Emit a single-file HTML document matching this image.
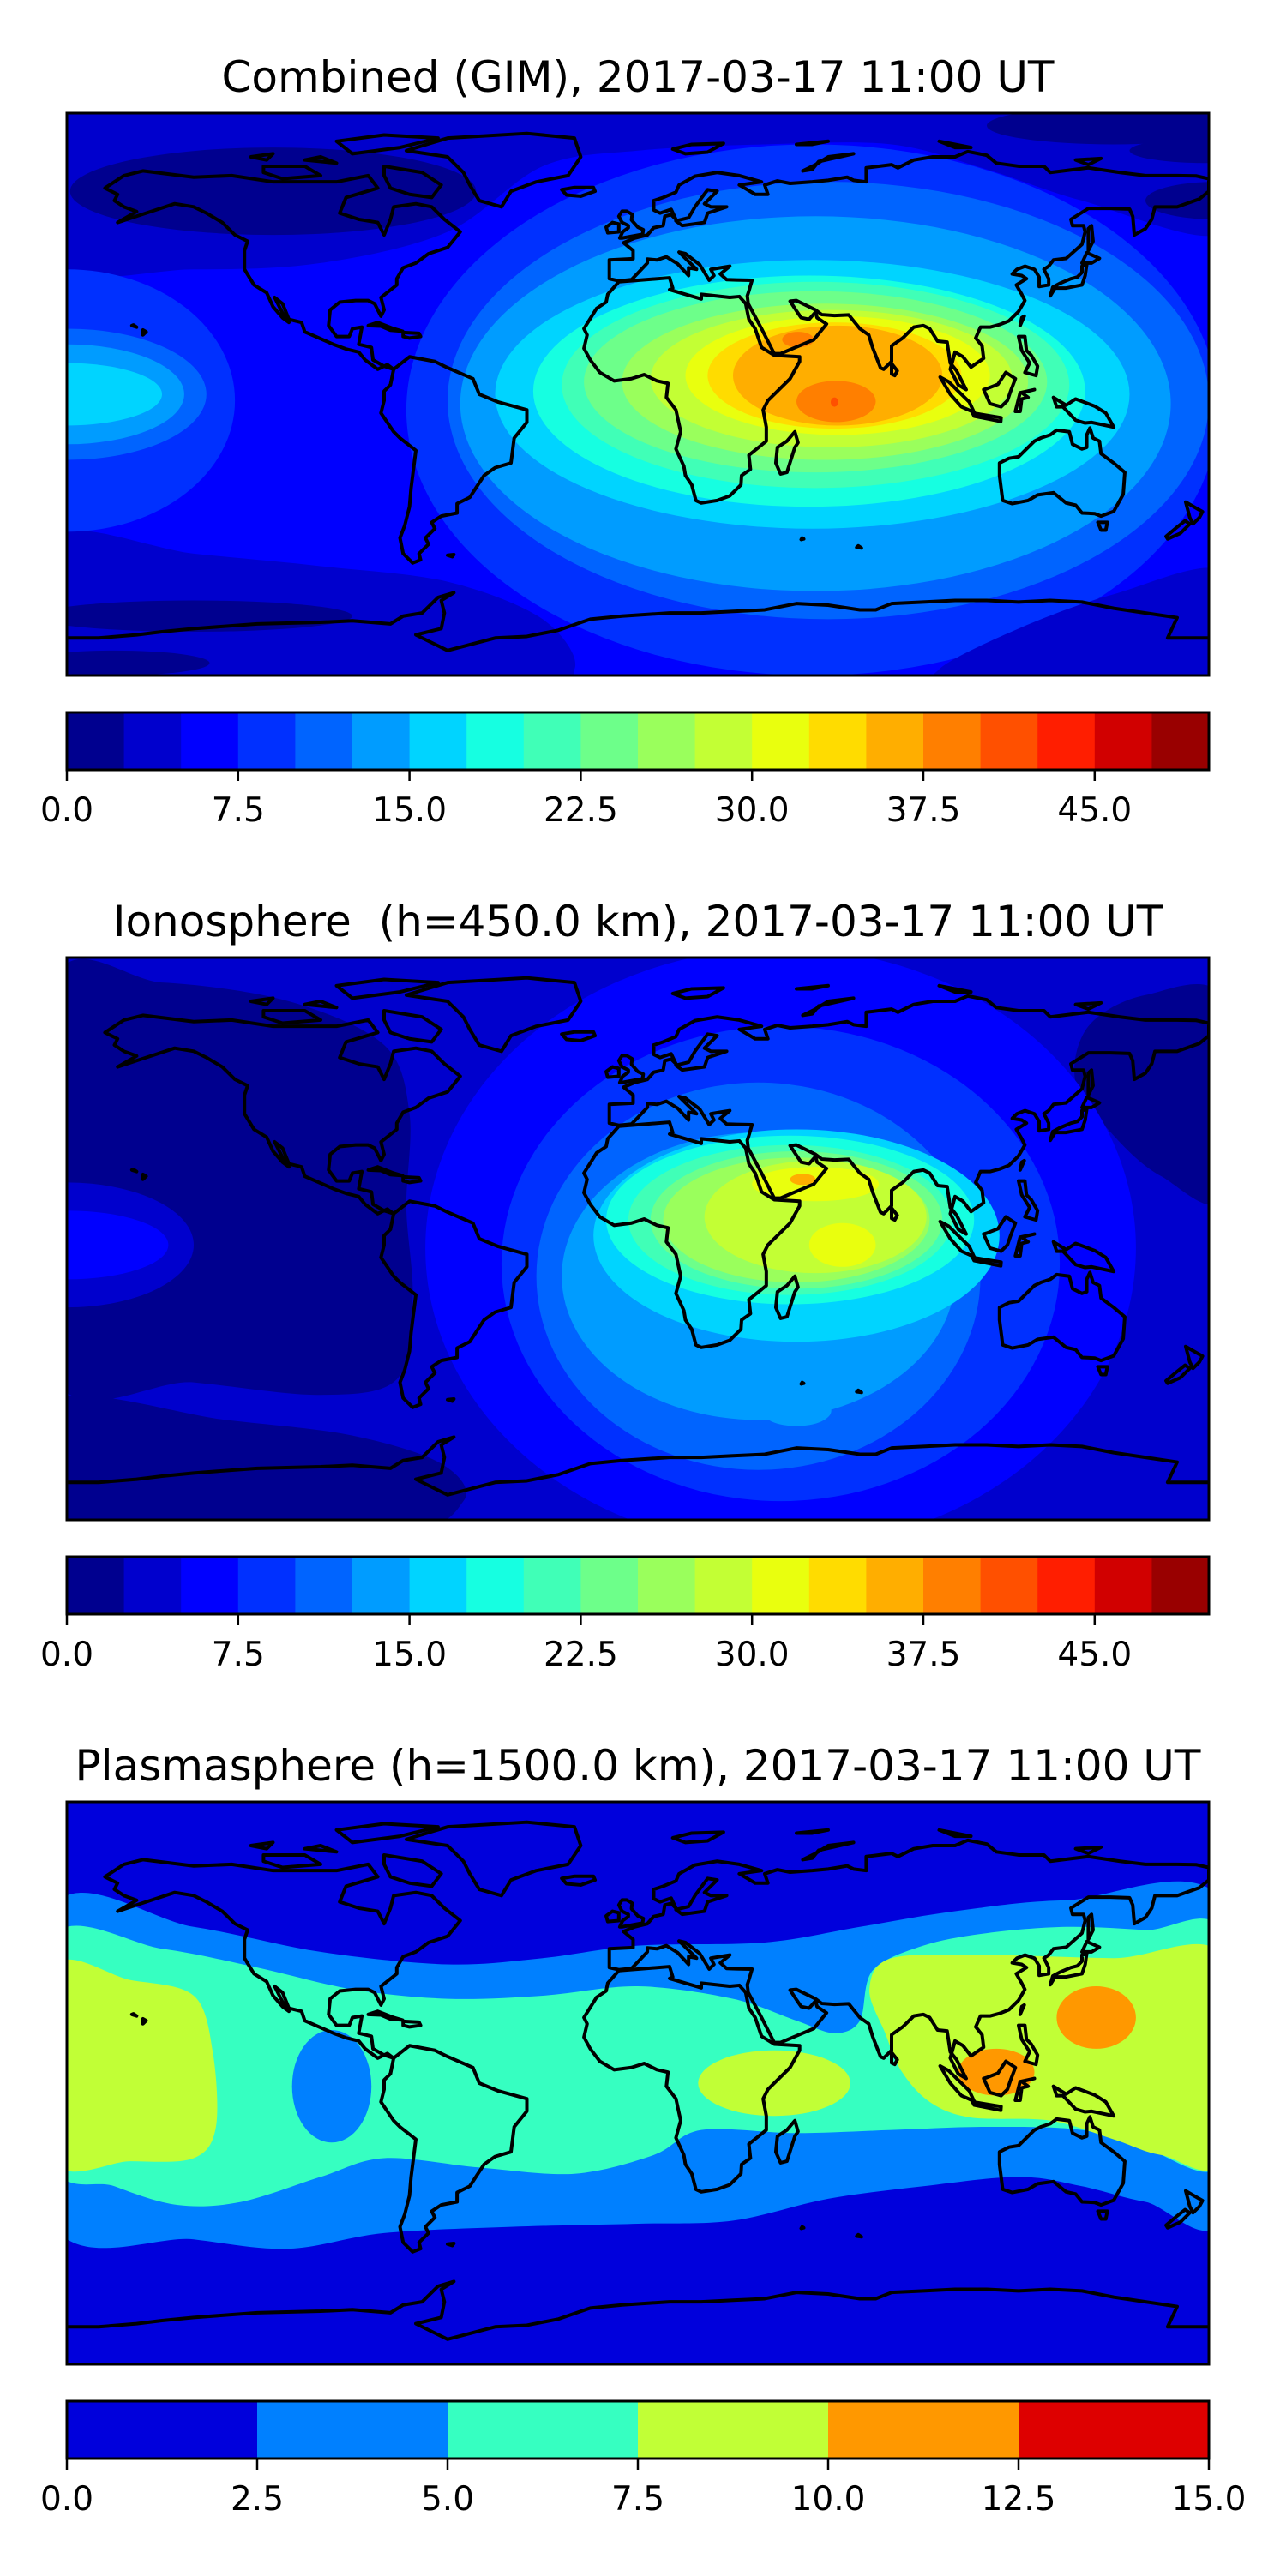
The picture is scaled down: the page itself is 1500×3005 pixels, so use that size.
<!DOCTYPE html>
<html><head><meta charset="utf-8">
<style>
html,body{margin:0;padding:0;background:#fff;}
svg text{font-family:"DejaVu Sans","Liberation Sans",sans-serif;fill:#000;}
</style></head>
<body>
<svg id="root" width="1500" height="3000" xmlns="http://www.w3.org/2000/svg">
<rect width="1500" height="3000" fill="#fff"/>

<!-- ============ PANEL 1 ============ -->
<text x="744" y="107" font-size="50" text-anchor="middle">Combined (GIM), 2017-03-17 11:00 UT</text>
<svg x="78" y="132" width="1332" height="656" viewBox="-180 -90 360 180" preserveAspectRatio="none">
<rect x="-180" y="-90" width="360" height="180" fill="#0000ff"/>
<ellipse cx="55" cy="5" rx="128" ry="85" fill="#0030ff"/>
<path class="sm" data-c="#0000cd" data-p="-185,95 185,95 185,52 140,62 110,72 80,80 40,80 0,78 -30,73 -60,52 -100,42 -140,40 -185,42"/>
<path class="sm" data-c="#0000cd" data-p="-185,-95 -40,-95 -20,-88 -30,-72 -60,-60 -100,-55 -140,-51 -185,-46"/>
<path class="sm" data-c="#0000cd" data-p="185,-95 100,-95 95,-88 120,-75 150,-64 185,-57"/>
<ellipse cx="-115" cy="-65" rx="64" ry="14" fill="#00008f"/>
<ellipse cx="150" cy="-86" rx="40" ry="6" fill="#00008f"/>
<ellipse cx="182" cy="-62" rx="22" ry="6" fill="#00008f"/>
<ellipse cx="-140" cy="71" rx="50" ry="5" fill="#00008f"/>
<ellipse cx="-165" cy="86" rx="30" ry="4" fill="#00008f"/>
<ellipse cx="180" cy="-78" rx="25" ry="4" fill="#00008f"/>
<!-- pacific blob -->
<ellipse cx="-180" cy="2" rx="53" ry="42" fill="#0030ff"/>
<ellipse cx="-180" cy="0" rx="44" ry="21" fill="#0064ff"/>
<ellipse cx="-180" cy="0" rx="37" ry="16" fill="#009cff"/>
<ellipse cx="-180" cy="0" rx="30" ry="10" fill="#00d4ff"/>
<!-- main -->
<ellipse cx="60" cy="2" rx="120" ry="70" fill="#0064ff"/>
<ellipse cx="56" cy="3" rx="112" ry="60" fill="#009cff"/>
<ellipse cx="55" cy="0" rx="100" ry="43" fill="#00d4ff"/>
<ellipse cx="54" cy="-1" rx="87" ry="37" fill="#16ffe1"/>
<ellipse cx="56" cy="-3" rx="80" ry="33" fill="#40ffb7"/>
<ellipse cx="56" cy="-4" rx="73" ry="29" fill="#6dff8a"/>
<ellipse cx="59" cy="-4" rx="64" ry="25" fill="#9aff5c"/>
<ellipse cx="61" cy="-5" rx="57" ry="22" fill="#c3ff34"/>
<ellipse cx="63" cy="-6" rx="48" ry="19" fill="#e9ff0e"/>
<ellipse cx="62" cy="-6" rx="40" ry="17" fill="#ffdc00"/>
<ellipse cx="63" cy="-6" rx="33" ry="16" fill="#ffae00"/>
<ellipse cx="62.5" cy="2.3" rx="12.5" ry="6.6" fill="#ff7f00"/>
<ellipse cx="50.5" cy="-17.5" rx="5" ry="2.5" fill="#ff7f00"/>
<ellipse cx="62" cy="2.5" rx="1.2" ry="1.5" fill="#ff5000"/>
<g class="coast"></g>
</svg>
<rect x="78" y="132" width="1332" height="656" fill="none" stroke="#000" stroke-width="3"/>
<g id="cb1"></g>

<!-- ============ PANEL 2 ============ -->
<text x="744" y="1092" font-size="50" text-anchor="middle" xml:space="preserve">Ionosphere &#160;(h=450.0 km), 2017-03-17 11:00 UT</text>
<svg x="78" y="1117" width="1332" height="656" viewBox="-180 -90 360 180" preserveAspectRatio="none">
<rect x="-180" y="-90" width="360" height="180" fill="#0000cd"/>
<path class="sm" data-c="#00008f" data-p="-185,80 -150,82 -110,76 -80,62 -72,40 -73,10 -71,-20 -76,-45 -100,-50 -140,-46 -185,-42"/>
<path class="sm" data-c="#00008f" data-p="185,76 160,78 142,68 138,50 150,33 165,20 185,14"/>
<path class="sm" data-c="#00008f" data-p="-185,-52 -130,-58 -90,-63 -62,-72 -55,-84 -80,-95 -185,-95"/>
<ellipse cx="-180" cy="2" rx="40" ry="20" fill="#0000cd"/>
<ellipse cx="-180" cy="2" rx="32" ry="11" fill="#0000ff"/>
<ellipse cx="45" cy="3" rx="112" ry="96" fill="#0000ff"/>
<ellipse cx="45" cy="8" rx="88" ry="76" fill="#0030ff"/>
<ellipse cx="38" cy="12" rx="70" ry="62" fill="#0064ff"/>
<ellipse cx="38" cy="12" rx="62" ry="46" fill="#009cff"/>
<ellipse cx="50" cy="55" rx="11" ry="5" fill="#009cff"/>
<ellipse cx="50" cy="-1" rx="64" ry="34" fill="#00d4ff"/>
<ellipse cx="48" cy="-6" rx="58" ry="27" fill="#16ffe1"/>
<ellipse cx="48" cy="-6" rx="51" ry="24" fill="#40ffb7"/>
<ellipse cx="50" cy="-6" rx="46" ry="22" fill="#6dff8a"/>
<ellipse cx="50" cy="-6" rx="42" ry="20" fill="#9aff5c"/>
<ellipse cx="56" cy="-7" rx="35" ry="18" fill="#c3ff34"/>
<ellipse cx="56" cy="-17.5" rx="20" ry="5.5" fill="#e9ff0e"/>
<ellipse cx="64.5" cy="2" rx="10.5" ry="7" fill="#e9ff0e"/>
<ellipse cx="52" cy="-19" rx="4" ry="1.8" fill="#ffae00"/>
<g class="coast"></g>
</svg>
<rect x="78" y="1117" width="1332" height="656" fill="none" stroke="#000" stroke-width="3"/>
<g id="cb2"></g>

<!-- ============ PANEL 3 ============ -->
<text x="744" y="2077" font-size="50" text-anchor="middle">Plasmasphere (h=1500.0 km), 2017-03-17 11:00 UT</text>
<svg x="78" y="2102" width="1332" height="656" viewBox="-180 -90 360 180" preserveAspectRatio="none">
<rect x="-180" y="-90" width="360" height="180" fill="#0000dc"/>
<path class="sm" data-c="#0080ff" data-p="-185,55 -140,50 -100,42 -60,38 -30,40 0,44 40,45 70,50 100,55 135,58.5 185,57 185,-41 160,-38 140,-33 120,-30 90,-33 60,-37 30,-44 0,-45 -40,-46 -80,-48 -110,-53 -140,-50 -185,-43.7"/>
<path class="sm" data-c="#36ffc1" data-p="-185,46 -150,43 -120,37 -90,30 -60,27 -30,28 0,31 30,27 50,20 62,16 70,20 74,36 90,44 110,48 135,50 160,49 185,47 185,-24 160,-21 140,-15 110,-14 80,-15 50,-16 20,-15 5,-23 -20,-29 -50,-27 -80,-24 -100,-30 -125,-38 -145,-39 -165,-33 -185,-24"/>
<ellipse cx="-96.5" cy="1" rx="12.5" ry="18" fill="#0080ff"/>
<path class="sm" data-c="#c1ff36" data-p="-185,36 -160,33 -140,28 -134,10 -133,-14 -140,-24 -160,-25 -185,-23.6"/>
<ellipse cx="43" cy="0" rx="24" ry="10.5" fill="#c1ff36"/>
<path class="sm" data-c="#c1ff36" data-p="185,40 150,40 110,41 80,40 73,30 78,16 83,4 92,-6 105,-11 130,-12 150,-18 165,-23 185,-23.6"/>
<ellipse cx="113" cy="-3.5" rx="12" ry="7.5" fill="#ff9800"/>
<ellipse cx="144.5" cy="-21" rx="12.5" ry="10" fill="#ff9800"/>
<g class="coast"></g>
</svg>
<rect x="78" y="2102" width="1332" height="656" fill="none" stroke="#000" stroke-width="3"/>
<g id="cb3"></g>
</svg>

<script>
(function(){
var NS="http://www.w3.org/2000/svg";
function el(n,a){var e=document.createElementNS(NS,n);for(var k in a)e.setAttribute(k,a[k]);return e;}
var sms=document.querySelectorAll('path.sm');
for(var i=0;i<sms.length;i++){
 var p=sms[i],pts=p.getAttribute('data-p').trim().split(/\s+/).map(function(s){var a=s.split(',');return [+a[0],-(+a[1])];});
 var n=pts.length,d="M"+pts[0][0]+","+pts[0][1];
 for(var j=0;j<n;j++){
  var p0=pts[(j-1+n)%n],p1=pts[j],p2=pts[(j+1)%n],p3=pts[(j+2)%n];
  var t=0.16;
  var c1=[p1[0]+(p2[0]-p0[0])*t,p1[1]+(p2[1]-p0[1])*t];
  var c2=[p2[0]-(p3[0]-p1[0])*t,p2[1]-(p3[1]-p1[1])*t];
  d+="C"+c1[0].toFixed(2)+","+c1[1].toFixed(2)+" "+c2[0].toFixed(2)+","+c2[1].toFixed(2)+" "+p2[0]+","+p2[1];
 }
 p.setAttribute('d',d+"Z");p.setAttribute('fill',p.getAttribute('data-c'));
}
var C=[
[[-168,66],[-162,70],[-156,71.5],[-140,69.5],[-128,70],[-115,68],[-95,68],[-85,70],[-82,66],[-92,63],[-94,58],[-88,56],[-82,55],[-80,51],[-78,56],[-77,60],[-70,61],[-65,60],[-61,56],[-56,52],[-60,47],[-66,45],[-70,42],[-74,40.5],[-76,37],[-76,35],[-81,31],[-80,27],[-81,25],[-83,29],[-85,30],[-89,30],[-94,29.5],[-97,27],[-97.5,22],[-95,18.5],[-91,18.5],[-90,21],[-87,21.5],[-88,16],[-84,15],[-83.5,11],[-80,9],[-77,8],[-79,9.5],[-82,8],[-86,11],[-88,13.5],[-92,14.5],[-96,16],[-105,20],[-106,23],[-110,24],[-112,29],[-114.5,31],[-112,26],[-110,23],[-112,24.5],[-115,28],[-117,32.5],[-121,35],[-124,40],[-124,46],[-123,49],[-127,51],[-131,55],[-136,58],[-140,60],[-146,61],[-152,59],[-158,57],[-164,55],[-158,58.5],[-162,60],[-165,62],[-164,64],[-168,66]],
[[-73,78],[-60,82],[-35,83.5],[-20,82],[-18,76],[-22,70],[-32,68],[-40,65],[-43,60],[-50,62],[-53,67],[-55,71],[-60,76],[-73,78]],
[[-80,73],[-68,71],[-62,67],[-65,63],[-72,64],[-78,66],[-80,70],[-80,73]],
[[-118,73],[-105,73],[-100,70],[-112,69],[-118,71],[-118,73]],
[[-90,77],[-75,79],[-63,82],[-80,83],[-95,81],[-90,77]],
[[-100,76],[-95,74],[-105,75],[-100,76]],[[-122,76],[-115,77],[-117,75],[-122,76]],
[[-77,8],[-72,12],[-64,10.5],[-60,8.5],[-52,5],[-50,0],[-44,-2.5],[-35,-5],[-35,-9],[-39,-14],[-40,-22],[-45,-23.5],[-48.5,-26],[-53,-33],[-57,-35],[-57,-38],[-62,-39],[-65,-41],[-64,-43],[-67,-46],[-66,-48],[-69,-51],[-68.5,-53],[-71,-54],[-74,-51],[-75,-46],[-73.5,-42],[-72,-36],[-71.5,-30],[-70,-18],[-75,-14],[-77,-12],[-81,-6],[-80,-2],[-80,1],[-78,3],[-77,8]],
[[-6,36],[10,37.3],[11,34],[10,33.5],[20,30.5],[20,32],[29,31],[32,31.3],[34,29],[35,24],[37,21],[39,15],[43,12.5],[51,12],[51,10.5],[48,5],[41,-2],[39.5,-5],[40.5,-10.5],[40.5,-15],[35,-19.5],[35.5,-24],[32.7,-26],[32.5,-29],[29,-32.5],[25,-34],[20,-34.8],[18.3,-34],[17,-29],[15,-26],[14.5,-23],[12,-17.5],[13.5,-12],[12,-5],[9,-1],[9.5,3.5],[6,4.3],[2,6.3],[-2,5],[-7.5,4.3],[-12,7],[-15,11],[-17,14.7],[-16,19],[-17,21],[-13,27.5],[-10,29.5],[-9.5,32],[-6,36]],
[[49.5,-12],[50.5,-15.5],[49.5,-17],[47,-25],[45,-25.5],[43.5,-22],[44,-17],[47,-15],[49.5,-12]],
[[-9,43],[-9,37],[-6,36.3],[-2,36.7],[0,38.8],[3,42],[3,43.3],[6,43],[9,44],[12.5,41.8],[16,38],[16,40.5],[18.5,40],[13,45.5],[15,45],[19.5,41.5],[22.5,36.5],[24,38],[23,40],[26,40.5],[29,41],[26,38.5],[28,36.7],[31,36.6],[36,36.5],[35,33],[34.5,31.5],[34.8,29],[39,21],[43,13],[45,13],[52,16],[55.5,17.5],[59.5,22.5],[56.5,24.5],[56,26.3],[54,24],[51.5,24.5],[50,26.7],[48,29.8],[50,30],[56,27],[58,25.5],[62,25.2],[66.5,25.4],[68,23.5],[70,21],[72.8,19],[74,15],[76.5,8.5],[77.5,8],[80,10.5],[80,15.5],[83.5,18],[87,21.5],[90,22],[92,21],[94.5,17],[97.5,16.7],[98.5,10],[100.5,7.5],[103.5,1.5],[101,3],[98.5,8],[100,13.5],[102.5,12],[105,8.7],[109,11.5],[108.5,15.5],[106.5,18],[108,21.5],[111,21.5],[114,22.3],[117,23.5],[120,26.5],[122,30],[121,32],[119.3,35],[122.5,37],[121,38],[118,38.5],[119.5,40],[122,41],[125,40],[126.5,37.5],[126.5,34.5],[129.5,35],[129.5,37],[128,40],[129.5,41],[131,43],[135,43.5],[140,48],[141,52],[140.5,54],[137,54],[136.5,56],[142,59.5],[149,59.5],[155,59.3],[156,57],[156.5,51],[160,53],[162,56],[163,60],[170,60],[177,62.5],[180,65],[180,69],[176,69.9],[170,70],[160,70],[152,71],[142,72.5],[130,71],[128,73],[120,73],[113,74],[110,76.5],[104,77.7],[100,76],[93,76],[87,75],[82,72.5],[80,73.5],[72,72.5],[72,68],[68,68.5],[66,69.5],[60,68.5],[55,68],[48,67.5],[44,68.3],[40,67],[41,64],[37,64],[32,67],[39,68],[32,70],[25,71],[18,69.8],[13,67],[12,64.7],[8,63],[5,62],[5,59],[7,58],[10.5,59.2],[12,56],[10.5,57.5],[8.5,57],[8,54],[5,53.3],[3,51],[-1,50],[-4.5,48.5],[-1.5,46],[-1.5,43.4],[-9,43]],
[[18,60],[22,65.5],[25,65],[21,61],[23,60],[28,60],[22,58],[21,55],[14,54],[12,55.5],[16,56.5],[18,60]],
[[-5,50],[1.5,51.2],[1.7,52.7],[0,53.5],[-2,55.8],[-1.8,57.6],[-3.5,58.6],[-5,58.6],[-6,57],[-5,55],[-3,54],[-3,53.3],[-4.8,52],[-5.7,50],[-5,50]],
[[-6,52],[-6,54.5],[-8,55],[-10,53.5],[-9.5,51.7],[-6,52]],
[[114,-22],[114,-26],[115,-34],[118,-35],[123,-34],[126,-32.2],[131,-31.5],[135,-34.8],[138,-35.5],[140,-38],[144,-38.2],[146,-39],[150,-37.5],[153,-32],[153.5,-25],[150,-22],[146,-19],[145.5,-15],[143.5,-14],[142.5,-10.8],[141.5,-13],[141.5,-17],[140,-17.5],[137,-16],[136,-12],[132,-11.5],[130,-13],[127,-14],[125,-15],[122,-18],[120,-20],[117,-20.5],[114,-22]],
[[145,-41],[148,-41],[147.5,-43.5],[146,-43.5],[145,-41]],
[[172.7,-34.5],[178,-37.6],[177,-39.5],[175,-41.5],[174,-39.5],[172.7,-34.5]],
[[172.5,-40.5],[174,-41.5],[171,-44.5],[167,-46.3],[166.5,-45.5],[170,-42.5],[172.5,-40.5]],
[[130,31.5],[131.5,34],[135,34],[140,35],[141,38],[141.5,41.5],[140,41],[140,39],[138.5,37.5],[136.5,37],[133,35.5],[130.8,34.3],[130,31.5]],
[[140,42],[141.5,45.3],[145.5,43.5],[143,42],[140,42]],
[[142,46],[143.5,49],[143,54],[142,53],[142,46]],
[[95.3,5.5],[98,4],[104.5,-2.5],[106,-5.8],[102,-4],[98.5,0],[95.3,5.5]],
[[105.5,-6],[114.5,-7.5],[114.4,-8.7],[106,-7],[105.5,-6]],
[[109,1.5],[111,-3],[114.5,-4],[116.5,-2],[117.5,1],[119,5],[116,7],[113.5,3.2],[110,1.8],[109,1.5]],
[[119,-5.5],[120.5,0.5],[125,1.5],[121,0.5],[123,-1],[121,-1.5],[120.5,-5.5],[119,-5.5]],
[[131,-1],[135,-3.5],[138,-1.5],[144,-3.8],[147.5,-6],[150,-10.5],[143,-9],[141,-9.2],[138,-8.3],[134,-4],[132,-4],[131,-1]],
[[120,18.5],[122,18.5],[122.5,14],[124,12.5],[126,9],[125.5,6],[122,7],[123.5,10],[121,14],[120,18.5]],
[[120.5,22],[121.8,25],[121,24.5],[120.5,22]],
[[80,9.8],[81.8,7.5],[81,6],[80,6.5],[80,9.8]],
[[-85,22],[-82,23],[-77,21],[-74.2,20.2],[-78,20.5],[-81,21.8],[-85,22]],
[[-74,19.8],[-69,19.5],[-68.5,18.5],[-72,18],[-74,18.5],[-74,19.8]],
[[-24,65.5],[-20,66.2],[-14,66.2],[-13.5,65],[-18,63.4],[-22.5,63.8],[-24,65.5]],
[[11,78.5],[17,80],[27,80.3],[22,77.5],[15,77],[11,78.5]],
[[52,71.5],[56,73.5],[60,76],[68,77],[57,74.5],[55,72],[52,71.5]],
[[-156,19],[-155,20],[-156,20.6],[-156,19]],[[-159.5,22],[-158,21.5],[-159,22.2],[-159.5,22]],
[[51.5,-46.5],[52.3,-46.3],[51.8,-46],[51.5,-46.5]],[[69,-49],[70.5,-49.2],[69.5,-48.5],[69,-49]],
[[-60,-51.5],[-58,-51.3],[-58.5,-52],[-60,-51.5]],
[[138,75],[146,75.5],[142,73.5],[138,75]],[[100,79],[95,81],[105,79],[100,79]],[[50,80],[60,81],[55,80],[50,80]]
];
var ant=[[-180,-78],[-170,-78],[-158,-77],[-150,-76],[-140,-75],[-120,-73.5],[-100,-73],[-90,-72.5],[-78,-73.5],[-74,-71],[-68,-70],[-63,-65],[-58,-63.5],[-62,-66],[-61,-70],[-62,-75],[-70,-77],[-60,-82],[-45,-78],[-35,-77.5],[-25,-75.5],[-15,-72],[-5,-71],[10,-70],[20,-70],[30,-69.5],[40,-69],[50,-67],[60,-67.5],[70,-69],[75,-69],[80,-67],[90,-66.5],[100,-66],[110,-66],[120,-66.5],[130,-66],[140,-66.5],[150,-68.5],[160,-70],[170,-71.5],[167,-78],[180,-78]];
function pd(a,close){return "M"+a.map(function(p){return p[0]+","+(-p[1]);}).join("L")+(close?"Z":"");}
var gs=document.querySelectorAll('g.coast');
for(var g=0;g<gs.length;g++){
 for(var k=0;k<C.length;k++) gs[g].appendChild(el('path',{d:pd(C[k],true),fill:'none',stroke:'#000','stroke-width':4,'vector-effect':'non-scaling-stroke','stroke-linejoin':'round'}));
 gs[g].appendChild(el('path',{d:pd(ant,false),fill:'none',stroke:'#000','stroke-width':4,'vector-effect':'non-scaling-stroke','stroke-linejoin':'round'}));
}
var jet=["#00008f","#0000cd","#0000ff","#0030ff","#0064ff","#009cff","#00d4ff","#16ffe1","#40ffb7","#6dff8a","#9aff5c","#c3ff34","#e9ff0e","#ffdc00","#ffae00","#ff7f00","#ff5000","#ff1e00","#d10000","#990000"];
var pl=["#0000dc","#0080ff","#36ffc1","#c1ff36","#ff9800","#de0000"];
function cbar(id,T,cols,ticks,vmax){
 var g=document.getElementById(id),x0=78,W=1332,top=T+699,h=67,n=cols.length;
 for(var i=0;i<n;i++) g.appendChild(el('rect',{x:x0+W*i/n,y:top,width:W/n+0.6,height:h,fill:cols[i]}));
 g.appendChild(el('rect',{x:x0,y:top,width:W,height:h,fill:'none',stroke:'#000','stroke-width':3}));
 ticks.forEach(function(v){
  var x=x0+W*v/vmax;
  g.appendChild(el('line',{x1:x,y1:top+h,x2:x,y2:top+h+13,stroke:'#000','stroke-width':2.5}));
  var t=el('text',{x:x,y:T+826,'font-size':39,'text-anchor':'middle'});t.textContent=v.toFixed(1);g.appendChild(t);
 });
}
cbar('cb1',132,jet,[0,7.5,15,22.5,30,37.5,45],50);
cbar('cb2',1117,jet,[0,7.5,15,22.5,30,37.5,45],50);
cbar('cb3',2102,pl,[0,2.5,5,7.5,10,12.5,15],15);
})();
</script>
</body></html>
